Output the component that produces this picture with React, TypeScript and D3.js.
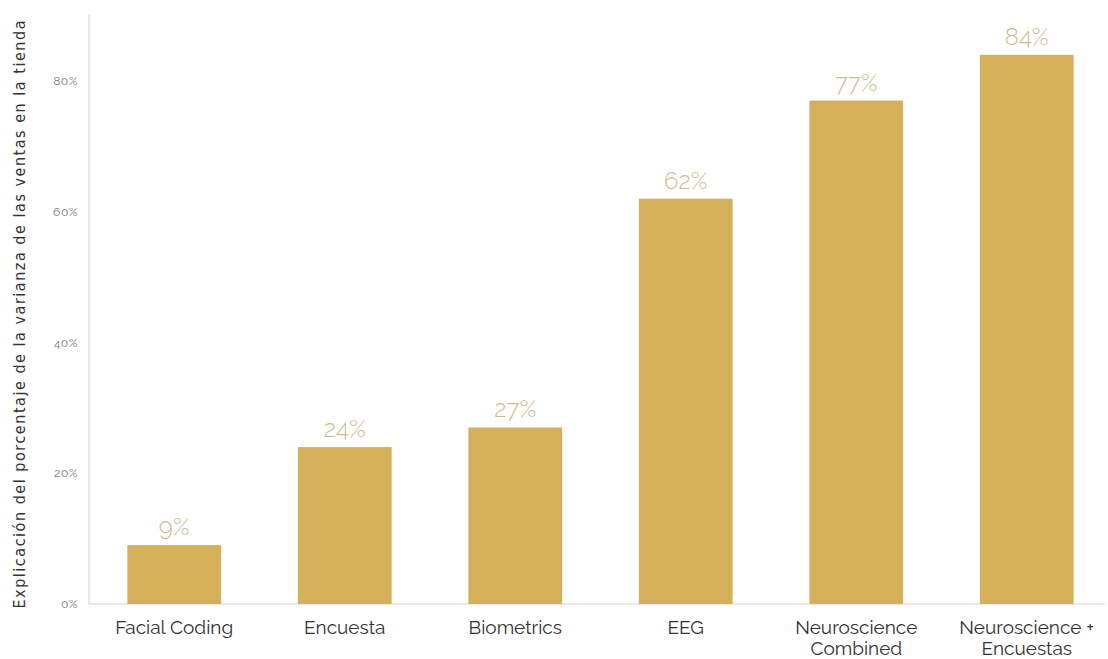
import React from "react";
import * as d3 from "d3";

const categories = [
  ["Facial Coding"],
  ["Encuesta"],
  ["Biometrics"],
  ["EEG"],
  ["Neuroscience", "Combined"],
  ["Neuroscience +", "Encuestas"],
];
const values = [9, 24, 27, 62, 77, 84];
const yTicks = [0, 20, 40, 60, 80];
const yTitle = "Explicación del porcentaje de la varianza de las ventas en la tienda";

export default function App() {
  const W = 1108, H = 659;
  const x = d3
    .scaleBand<number>()
    .domain(values.map((_, i) => i))
    .range([89, 1112])
    .paddingInner(0.45)
    .paddingOuter(0.225);
  const y = d3.scaleLinear().domain([0, 80]).range([604, 81]);
  const font = "Raleway, Lato, 'Open Sans', sans-serif";
  return (
    <svg
      width={W}
      height={H}
      style={{ position: "absolute", left: 0, top: 0, background: "#fff" }}
    >
      <line x1={89} x2={89} y1={14} y2={604} stroke="#e2e2e2" strokeWidth={1.5} />
      <line x1={89} x2={1105} y1={604} y2={604} stroke="#e2e2e2" strokeWidth={1.5} />
      {yTicks.map((t) => (
        <text
          key={t}
          x={78}
          y={y(t)}
          dy="0.35em"
          textAnchor="end"
          fontSize={12}
          fill="#777"
          fontFamily={font}
          letterSpacing={0.6}
        >
          {t}%
        </text>
      ))}
      <text
        transform={`translate(25,${(20 + 609) / 2}) rotate(-90)`}
        textAnchor="middle"
        fontSize={16}
        fill="#333"
        fontFamily="'Liberation Sans Narrow', 'DejaVu Sans Condensed', sans-serif"
        style={{ fontStretch: "condensed" }}
        textLength={588}
        lengthAdjust="spacing"
      >
        {yTitle}
      </text>
      {values.map((v, i) => (
        <g key={i}>
          <rect
            x={x(i)}
            y={y(v)}
            width={x.bandwidth()}
            height={604 - y(v)}
            fill="#d5b05a"
          />
          <text
            x={(x(i) as number) + x.bandwidth() / 2}
            y={y(v) - 10}
            textAnchor="middle"
            fontSize={24}
            fill="#cdbd8c"
            fontFamily={font}
            fontWeight={300}
          >
            {v}%
          </text>
          {categories[i].map((line, j) => (
            <text
              key={j}
              x={(x(i) as number) + x.bandwidth() / 2}
              y={634 + j * 21}
              textAnchor="middle"
              fontSize={19}
              fill="#333"
              fontFamily={font}
            >
              {line}
            </text>
          ))}
        </g>
      ))}
    </svg>
  );
}
